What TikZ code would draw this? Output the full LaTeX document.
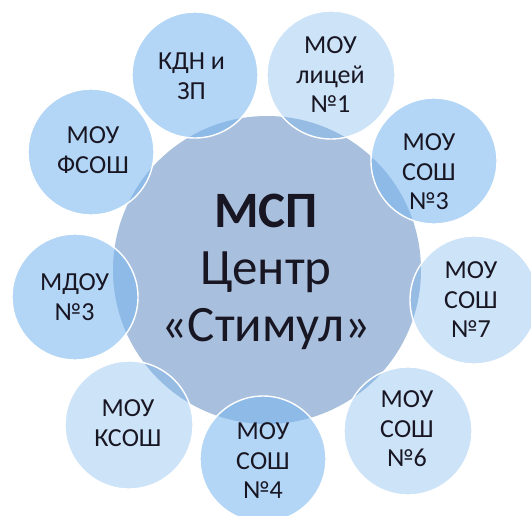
\documentclass[tikz,border=0pt]{standalone}
\usepackage{fontspec}
\setmainfont{Carlito}
\definecolor{satbase}{RGB}{121,182,239}
\definecolor{hubfill}{RGB}{168,192,222}
\definecolor{txt}{RGB}{25,22,35}
\tikzset{
  hub/.style={circle, fill=hubfill, minimum size=308pt, inner sep=0pt},
  satdark/.style={circle, fill=satbase, fill opacity=0.56, draw=white, line width=1.4pt, minimum size=126pt, inner sep=0pt},
  satlight/.style={circle, fill=satbase, fill opacity=0.38, draw=white, line width=1.4pt, minimum size=128pt, inner sep=0pt},
  sattext/.style={align=center, text=txt, font=\fontsize{26}{29.5}\selectfont, inner sep=0pt},
  hubtext/.style={align=center, text=txt, font=\fontsize{51}{57}\selectfont, inner sep=0pt}
}
\begin{document}
\begin{tikzpicture}[x=1pt,y=-1pt]
\clip (0,0) rectangle (531,515);
\fill[white] (0,0) rectangle (531,515);
\node[hub] (hub) at (267,270) {};
\node[satdark]  (kdn)  at (195,75)  {};
\node[satlight] (lic)  at (331,75)  {};
\node[satdark]  (s3)   at (434,161) {};
\node[satlight] (s7)   at (474,300) {};
\node[satlight] (s6)   at (408,431) {};
\node[satdark]  (s4)   at (263,459) {};
\node[satlight] (ks)   at (129,425) {};
\node[satdark]  (md)   at (75,297)  {};
\node[satdark]  (fs)   at (91,152)  {};
\node[hubtext] (hubt) at (266,272) {\textbf{МСП}\\Центр\\«Стимул»};
\node[sattext] (kdnt) at (191.5,76) {КДН и\\ЗП};
\node[sattext] (lict) at (330.5,75) {МОУ\\лицей\\№1};
\node[sattext] (s3t)  at (429,172) {МОУ\\СОШ\\№3};
\node[sattext] (s7t)  at (471,300) {МОУ\\СОШ\\№7};
\node[sattext] (s6t)  at (407,429) {МОУ\\СОШ\\№6};
\node[sattext] (s4t)  at (263,461) {МОУ\\СОШ\\№4};
\node[sattext] (kst)  at (128,423) {МОУ\\КСОШ};
\node[sattext] (mdt)  at (74.6,297) {МДОУ\\№3};
\node[sattext] (fst)  at (93,150) {МОУ\\ФСОШ};
\end{tikzpicture}
\end{document}
